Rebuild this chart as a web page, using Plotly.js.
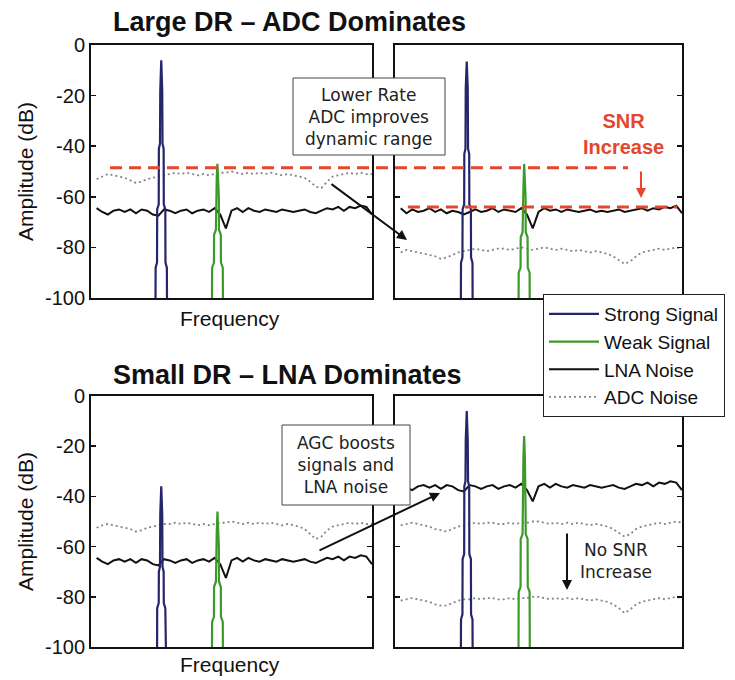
<!DOCTYPE html>
<html><head><meta charset="utf-8">
<script src="https://cdn.plot.ly/plotly-3.0.1.min.js"></script>
<style>html,body{margin:0;padding:0;background:#fff}#chart{width:735px;height:680px}</style>
</head><body><div id="chart"></div>
<script>
// ---------------- data ----------------
const yTicks = [0, -20, -40, -60, -80, -100];
const yTickText = ['0', '-20', '-40', '-60', '-80', '-100'];

// signal centre frequencies (same normalised 0-100 frequency axis in every panel)
const strongFreq = 25;
const weakFreq = 45;

// spectral outline of each tone: frequency offsets and amplitudes (dB)
const strongOffsets = [-2.1, -2.0, -1.5, -1.45, -0.9, -0.85, -0.45, -0.35, 0, 0.35, 0.45, 0.85, 0.9, 1.45, 1.5, 2.0, 2.1];
const strongTL = [-115, -88, -86, -65, -63, -41, -39, -18, -6, -18, -39, -41, -63, -65, -86, -88, -115];
const strongTR = [-118, -86, -84, -65, -63, -43, -41, -17, -6.5, -17, -41, -43, -63, -65, -84, -86, -118];
const strongBL = [-135, -118, -113, -84.5, -82.5, -70, -68, -47, -36, -47, -68, -70, -82.5, -84.5, -113, -118, -135];
const strongBR = [-115, -89, -87, -65, -63, -36, -34, -17.5, -6, -17.5, -34, -36, -63, -65, -87, -89, -115];

const weakOffsets = [-2.0, -1.9, -1.25, -1.2, -0.55, -0.5, -0.25, 0, 0.25, 0.5, 0.55, 1.2, 1.25, 1.9, 2.0];
const weakTL = [-115, -88, -86, -75, -73, -60, -52, -47, -52, -60, -73, -75, -86, -88, -115];
const weakTR = [-120, -90, -88, -76, -74, -60, -56, -47, -56, -60, -74, -76, -88, -90, -120];
const weakBL = [-118, -90, -88, -76, -74, -60, -54, -46, -54, -60, -74, -76, -88, -90, -118];
const weakBR = [-112, -78, -76, -57, -55, -45, -24, -16, -24, -45, -55, -57, -76, -78, -112];

// noise floors
const noiseX = [2,4,6,8,10,12,14,16,18,20,22,24,26,28,30,32,34,36,38,40,42,44,46,48,50,52,54,56,58,60,62,64,66,68,70,72,74,76,78,80,82,84,86,88,90,92,94,96,98,100];
const lnaTL = [-64.5,-66,-67,-65.5,-65,-66,-65,-66.5,-65,-65.5,-67,-67.5,-65,-65.5,-66.5,-65.5,-65,-66.5,-65.5,-65,-66,-64.5,-67,-72.5,-65.5,-64.5,-66,-64.5,-65.5,-66,-65,-65.5,-66,-65,-65.5,-66,-65.5,-65,-66,-66.5,-65.5,-64.5,-65,-64,-65.5,-64,-64.5,-63.5,-64,-67];
const lnaTR = [-64.5,-66.5,-65,-66,-65.5,-64.5,-66,-65,-66.5,-65.5,-66,-67,-66,-65,-66,-65.5,-64.5,-66,-65,-65.5,-66,-64.5,-67,-72.5,-66,-64.5,-65.5,-65,-66,-65,-65.5,-66,-65.5,-65,-66,-65.5,-66,-65.5,-65,-66,-65.5,-65,-64.5,-65.5,-64.5,-65,-64,-64.5,-63.5,-66.5];
const lnaBL = [-64.5,-66,-67,-65.5,-65,-66,-65,-66.5,-65,-65.5,-67,-67.5,-65,-65.5,-66.5,-65.5,-65,-66.5,-65.5,-65,-66,-64.5,-67,-72.5,-65.5,-64.5,-66,-64.5,-65.5,-66,-65,-65.5,-66,-65,-65.5,-66,-65.5,-65,-66,-66.5,-65.5,-64.5,-65,-64,-65.5,-64,-64.5,-63.5,-64,-67];
const lnaBR = [-35,-36.5,-37.5,-36,-35.5,-36.5,-35.5,-37,-35.5,-36,-37.5,-38,-35.5,-36,-37,-36,-35.5,-37,-36,-35.5,-36.5,-35,-37.5,-42,-36,-35,-36.5,-35,-36,-36.5,-35.5,-36,-36.5,-35.5,-36,-36.5,-36,-35.5,-36.5,-37,-36,-35,-35.5,-34.5,-36,-34.5,-35,-34,-34.5,-37.5];

const adcTL = [-53,-52,-51,-51.5,-52,-52.5,-53.5,-54.5,-54,-53,-52.5,-52,-51.5,-51,-50.5,-51,-50.5,-51,-51.5,-51,-51.5,-51,-50.5,-50.5,-50,-50.5,-51,-50.5,-51,-50.5,-51,-50.5,-51,-51.5,-51,-51.5,-52,-52.5,-54,-56,-56.5,-54,-52,-51.5,-51,-50.5,-51,-50.5,-51,-51];
const adcTR = [-82,-81,-81.5,-82,-82.5,-83,-83.5,-84.5,-84,-83,-82,-81.5,-81,-80.5,-81,-81.5,-81,-80.5,-80.5,-81,-80.5,-80,-80.5,-81,-80.5,-80,-80.5,-81,-80.5,-81,-81.5,-81,-81.5,-82,-81.5,-82,-82.5,-83.5,-85,-86.5,-85.5,-83.5,-82,-81.5,-81,-80.5,-81,-80.5,-80,-80.5];
const adcBL = [-52.5,-51.5,-51,-51.5,-52,-52.5,-53,-54,-53.5,-52.5,-52,-51.5,-51,-51,-50.5,-51,-50.5,-51,-51.5,-51,-51.5,-51,-50.5,-50.5,-50,-50.5,-51,-50.5,-51,-50.5,-51,-50.5,-51,-51.5,-51,-51.5,-52,-53,-55,-57,-56,-53.5,-52,-51.5,-51,-50.5,-51,-50.5,-51,-51];
const adcBRhigh = [-51.5,-51,-50.5,-51,-51.5,-52,-53,-53.5,-54,-53,-52,-51.5,-51,-50.5,-51,-50.5,-50.5,-51,-51,-50.5,-51,-50.5,-50.5,-50,-50,-50.5,-51,-50.5,-51,-50.5,-51,-50.5,-51,-51.5,-51,-51.5,-52,-53,-54.5,-56,-55,-53,-52,-51.5,-51,-50.5,-51,-50.5,-50,-50.5];
const adcBRlow = [-81.5,-81,-80.5,-81,-81.5,-82,-83,-83.5,-83.5,-82.5,-81.5,-81,-81,-80.5,-81,-80.5,-80.5,-81,-81,-80.5,-81,-80.5,-80.5,-80,-80,-80.5,-81,-80.5,-81,-80.5,-81,-80.5,-81,-81.5,-81,-81.5,-82,-83,-84.5,-86.5,-85,-83,-82,-81.5,-81,-80.5,-81,-80.5,-80,-80.5];

// SNR reference levels (dB)
const refLevelBefore = -48.5;
const refLevelAfter = -64;

// ---------------- layout helpers ----------------
const W = 735, H = 680;
const px = x => x / W;
const py = y => 1 - y / H;
const FONT = 'Liberation Sans, Arial, sans-serif';
const BOXFONT = 'DejaVu Sans, Verdana, sans-serif';
const STRONG = '#25256b', WEAK = '#3d9a2a', LNA = '#111111', ADC = '#858585', RED = '#e5462e';

const traces = [];
function sig(offsets, vals, centre, xa, ya, color, name, show, rank) {
  traces.push({x: offsets.map(o => centre + o), y: vals, xaxis: xa, yaxis: ya, type: 'scatter', mode: 'lines',
    line: {color: color, width: 2.2}, name: name, legendgroup: name, showlegend: show, legendrank: rank, hoverinfo: 'skip'});
}
function noise(vals, xa, ya, kind, show) {
  const isAdc = kind === 'ADC Noise';
  traces.push({x: noiseX, y: vals, xaxis: xa, yaxis: ya, type: 'scatter', mode: 'lines',
    line: isAdc ? {color: ADC, width: 1.8, dash: '2px,3px'} : {color: LNA, width: 2},
    name: kind, legendgroup: kind, showlegend: show, legendrank: isAdc ? 4 : 3, hoverinfo: 'skip'});
}

noise(adcTL, 'x', 'y', 'ADC Noise', true);
noise(adcTR, 'x2', 'y2', 'ADC Noise', false);
noise(adcBL, 'x3', 'y3', 'ADC Noise', false);
noise(adcBRhigh, 'x4', 'y4', 'ADC Noise', false);
noise(adcBRlow, 'x4', 'y4', 'ADC Noise', false);
noise(lnaTL, 'x', 'y', 'LNA Noise', true);
noise(lnaTR, 'x2', 'y2', 'LNA Noise', false);
noise(lnaBL, 'x3', 'y3', 'LNA Noise', false);
noise(lnaBR, 'x4', 'y4', 'LNA Noise', false);
sig(strongOffsets, strongTL, strongFreq, 'x', 'y', STRONG, 'Strong Signal', true, 1);
sig(strongOffsets, strongTR, strongFreq, 'x2', 'y2', STRONG, 'Strong Signal', false, 1);
sig(strongOffsets, strongBL, strongFreq, 'x3', 'y3', STRONG, 'Strong Signal', false, 1);
sig(strongOffsets, strongBR, strongFreq, 'x4', 'y4', STRONG, 'Strong Signal', false, 1);
sig(weakOffsets, weakTL, weakFreq, 'x', 'y', WEAK, 'Weak Signal', true, 2);
sig(weakOffsets, weakTR, weakFreq, 'x2', 'y2', WEAK, 'Weak Signal', false, 2);
sig(weakOffsets, weakBL, weakFreq, 'x3', 'y3', WEAK, 'Weak Signal', false, 2);
sig(weakOffsets, weakBR, weakFreq, 'x4', 'y4', WEAK, 'Weak Signal', false, 2);

const colL = [px(91), px(372)], colR = [px(395), px(682)];
const rowT = [py(298), py(45)], rowB = [py(647), py(396)];
function xax(dom, anchor) {
  return {domain: dom, anchor: anchor, range: [0, 100], showticklabels: false, ticks: '', showline: true,
    linecolor: '#111', linewidth: 2, mirror: true, showgrid: false, zeroline: false, fixedrange: true};
}
function yax(dom, anchor, labels) {
  return {domain: dom, anchor: anchor, range: [-100, 0], tickmode: 'array', tickvals: yTicks, ticktext: yTickText,
    showticklabels: labels, ticks: 'inside', ticklen: 5, tickwidth: 1.5, tickcolor: '#111',
    showline: true, linecolor: '#111', linewidth: 2, mirror: 'ticks', showgrid: false, zeroline: false,
    tickfont: {family: FONT, size: 20, color: '#111'}, fixedrange: true};
}

function txt(text, x, y, size, opts) {
  return Object.assign({text: text, xref: 'paper', yref: 'paper', x: px(x), y: py(y), showarrow: false,
    xanchor: 'center', yanchor: 'middle', font: {family: FONT, size: size, color: '#111'}}, opts || {});
}
function arrow(hx, hy, tx, ty, color) {
  return {text: '', xref: 'paper', yref: 'paper', x: px(hx), y: py(hy), ax: tx - hx, ay: ty - hy,
    showarrow: true, arrowhead: 2, arrowsize: 1, arrowwidth: 2, arrowcolor: color, standoff: 0, startstandoff: 0};
}

const annotations = [
  txt('<b>Large DR – ADC Dominates</b>', 111, 22, 27, {xanchor: 'left'}),
  txt('<b>Small DR – LNA Dominates</b>', 111, 375, 27, {xanchor: 'left'}),
  txt('Amplitude (dB)', 25, 172, 21, {textangle: -90}),
  txt('Amplitude (dB)', 25, 522, 21, {textangle: -90}),
  txt('Frequency', 230, 318, 21),
  txt('Frequency', 230, 664, 21),
  txt('Lower Rate<br>ADC improves<br>dynamic range', 369, 117, 17, {font: {family: BOXFONT, size: 17, color: '#222'}}),
  txt('AGC boosts<br>signals and<br>LNA noise', 346, 465, 17, {font: {family: BOXFONT, size: 17, color: '#222'}}),
  txt('<b>SNR<br>Increase</b>', 623, 134, 20, {font: {family: FONT, size: 20, color: RED}}),
  txt('No SNR<br>Increase', 616, 561, 17, {font: {family: BOXFONT, size: 17, color: '#222'}}),
  arrow(407, 240, 330, 183, '#111'),
  arrow(440, 493, 318, 551, '#111'),
  arrow(641, 198, 641, 170, RED),
  arrow(567, 590, 567, 532, '#111')
];

const shapes = [
  {type: 'line', xref: 'paper', yref: 'y', x0: px(110), x1: px(628), y0: refLevelBefore, y1: refLevelBefore,
    line: {color: RED, width: 3, dash: '12px,7px'}},
  {type: 'line', xref: 'x2', yref: 'y2', x0: 4.5, x1: 98.3, y0: refLevelAfter, y1: refLevelAfter,
    line: {color: RED, width: 3, dash: '12px,7px'}},
  {type: 'rect', xref: 'paper', yref: 'paper', x0: px(293), x1: px(445), y0: py(155), y1: py(78),
    fillcolor: '#ffffff', line: {color: '#444', width: 1}},
  {type: 'rect', xref: 'paper', yref: 'paper', x0: px(282), x1: px(410), y0: py(505), y1: py(425),
    fillcolor: '#ffffff', line: {color: '#444', width: 1}}
];

const layout = {
  width: W, height: H, margin: {l: 0, r: 0, t: 0, b: 0}, paper_bgcolor: '#fff', plot_bgcolor: '#fff',
  xaxis: xax(colL, 'y'), yaxis: yax(rowT, 'x', true),
  xaxis2: xax(colR, 'y2'), yaxis2: yax(rowT, 'x2', false),
  xaxis3: xax(colL, 'y3'), yaxis3: yax(rowB, 'x3', true),
  xaxis4: xax(colR, 'y4'), yaxis4: yax(rowB, 'x4', false),
  showlegend: true,
  legend: {x: px(543), y: py(294), xanchor: 'left', yanchor: 'top', bgcolor: '#fff', bordercolor: '#222', borderwidth: 1,
    font: {family: FONT, size: 19, color: '#111'}, itemwidth: 50, tracegroupgap: 0, traceorder: 'normal'},
  annotations: annotations, shapes: shapes
};

Plotly.newPlot('chart', traces, layout, {staticPlot: true, displayModeBar: false});
</script></body></html>
